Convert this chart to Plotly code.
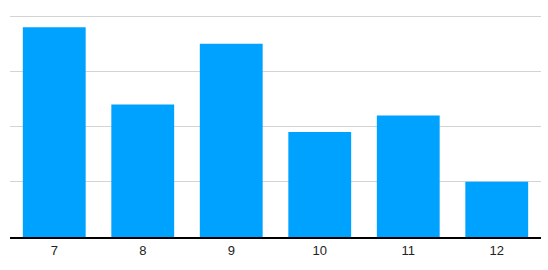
import plotly.graph_objects as go

categories = ["7", "8", "9", "10", "11", "12"]
values = [3.8, 2.4, 3.5, 1.9, 2.2, 1.0]

fig = go.Figure(go.Bar(x=categories, y=values, marker=dict(color="#00a2ff", line=dict(width=0))))

fig.update_layout(
    width=548, height=270,
    margin=dict(l=10, r=7, t=15, b=33),
    paper_bgcolor="white", plot_bgcolor="white",
    bargap=0.29,
    showlegend=False,
    font=dict(family="Liberation Sans, Arial, sans-serif", size=13, color="#222"),
    xaxis=dict(type="category", showgrid=False, showline=True, linecolor="black", linewidth=2,
               ticks="", tickfont=dict(size=13, color="#222")),
    yaxis=dict(range=[0, 4.02], dtick=1, showticklabels=False, showgrid=True,
               gridcolor="#d4d4d4", gridwidth=1, zeroline=False, showline=False),
)

fig.write_html("out.html")
